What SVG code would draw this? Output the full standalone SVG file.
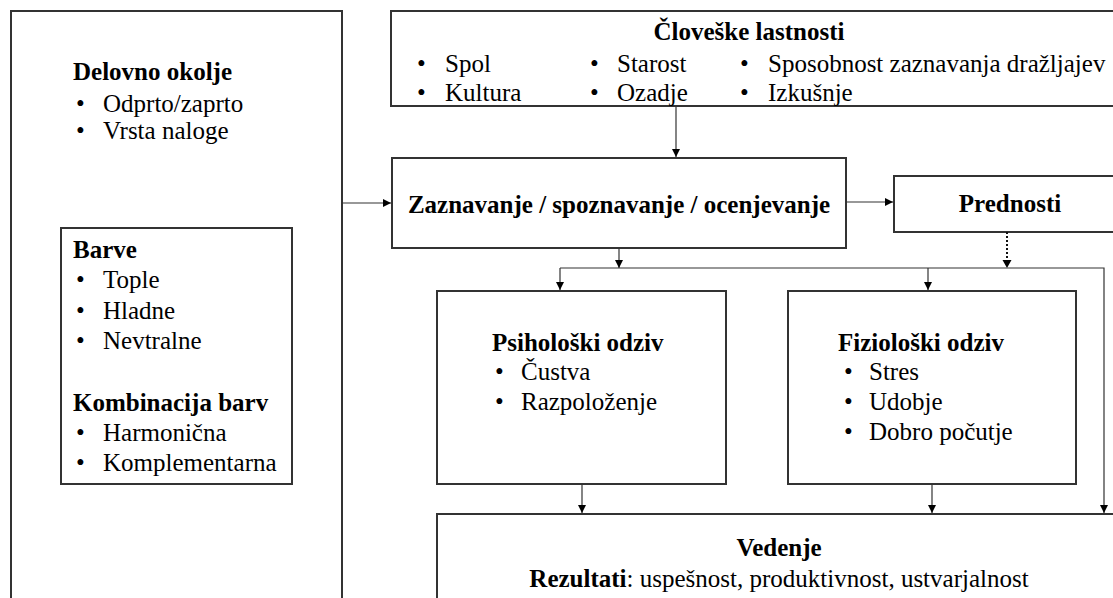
<svg xmlns="http://www.w3.org/2000/svg" width="1113" height="598" viewBox="0 0 1113 598">
<style>
.box{fill:#fff;stroke:#333;stroke-width:2}
.t{font-family:'Liberation Serif','Times New Roman',serif;font-size:25px;fill:#000}
.b{font-weight:bold}
.m{text-anchor:middle}
.c{fill:none;stroke:#333;stroke-width:1.2}
.d{fill:none;stroke:#111;stroke-width:2;stroke-dasharray:2 2}
</style>
<defs>
<marker id="ah" viewBox="0 0 10 10" refX="10" refY="5" markerWidth="9" markerHeight="8" markerUnits="userSpaceOnUse" orient="auto">
<path d="M0,0 L10,5 L0,10 z" fill="#000"/>
</marker>
</defs>
<rect width="1113" height="598" fill="#fff"/>

<g id="delovno-okolje">
<rect class="box" x="11" y="11" width="331" height="600"/>
<text class="t b" x="73" y="80">Delovno okolje</text>
<text class="t" x="76" y="112">•</text><text class="t" x="103" y="112">Odprto/zaprto</text>
<text class="t" x="76" y="139">•</text><text class="t" x="103" y="139">Vrsta naloge</text>
</g>

<g id="barve">
<rect class="box" x="61" y="228" width="231" height="256"/>
<text class="t b" x="73" y="258">Barve</text>
<text class="t" x="76" y="288">•</text><text class="t" x="103" y="288">Tople</text>
<text class="t" x="76" y="319">•</text><text class="t" x="103" y="319">Hladne</text>
<text class="t" x="76" y="349">•</text><text class="t" x="103" y="349">Nevtralne</text>
<text class="t b" x="73" y="411">Kombinacija barv</text>
<text class="t" x="76" y="441">•</text><text class="t" x="103" y="441">Harmonična</text>
<text class="t" x="76" y="471">•</text><text class="t" x="103" y="471">Komplementarna</text>
</g>

<g id="cloveske-lastnosti">
<rect class="box" x="391" y="11" width="740" height="95"/>
<text class="t b m" x="749" y="40">Človeške lastnosti</text>
<text class="t" x="417" y="72">•</text><text class="t" x="445" y="72">Spol</text>
<text class="t" x="590" y="72">•</text><text class="t" x="617" y="72">Starost</text>
<text class="t" x="740" y="72">•</text><text class="t" x="768" y="72">Sposobnost zaznavanja dražljajev</text>
<text class="t" x="417" y="101">•</text><text class="t" x="445" y="101">Kultura</text>
<text class="t" x="590" y="101">•</text><text class="t" x="617" y="101">Ozadje</text>
<text class="t" x="740" y="101">•</text><text class="t" x="768" y="101">Izkušnje</text>
</g>

<g id="zaznavanje">
<rect class="box" x="392" y="158" width="454" height="90"/>
<text class="t b m" x="619" y="213">Zaznavanje / spoznavanje / ocenjevanje</text>
</g>

<g id="prednosti">
<rect class="box" x="894" y="176" width="240" height="56"/>
<text class="t b m" x="1010" y="212">Prednosti</text>
</g>

<g id="psiholoski-odziv">
<rect class="box" x="437" y="291" width="289" height="193"/>
<text class="t b" x="492" y="351">Psihološki odziv</text>
<text class="t" x="495" y="380">•</text><text class="t" x="521" y="380">Čustva</text>
<text class="t" x="495" y="410">•</text><text class="t" x="521" y="410">Razpoloženje</text>
</g>

<g id="fizioloski-odziv">
<rect class="box" x="788" y="291" width="288" height="193"/>
<text class="t b" x="838" y="351">Fiziološki odziv</text>
<text class="t" x="844" y="380">•</text><text class="t" x="869" y="380">Stres</text>
<text class="t" x="844" y="410">•</text><text class="t" x="869" y="410">Udobje</text>
<text class="t" x="844" y="440">•</text><text class="t" x="869" y="440">Dobro počutje</text>
</g>

<g id="vedenje">
<rect class="box" x="437" y="514" width="700" height="100"/>
<text class="t b m" x="779" y="556">Vedenje</text>
<text class="t m" x="779" y="587"><tspan class="b">Rezultati</tspan>: uspešnost, produktivnost, ustvarjalnost</text>
</g>

<g id="connectors">
<line class="c" x1="342" y1="203" x2="391" y2="203" marker-end="url(#ah)"/>
<line class="c" x1="676" y1="106" x2="676" y2="157" marker-end="url(#ah)"/>
<line class="c" x1="846" y1="202" x2="893" y2="202" marker-end="url(#ah)"/>
<line class="c" x1="619" y1="248" x2="619" y2="268" marker-end="url(#ah)"/>
<line class="d" x1="1007" y1="232" x2="1007" y2="261"/>
<path d="M1002.5,260 L1011.5,260 L1007,268 z" fill="#000"/>
<polyline class="c" points="560,268 1104,268 1104,513" marker-end="url(#ah)"/>
<line class="c" x1="560" y1="268" x2="560" y2="290" marker-end="url(#ah)"/>
<line class="c" x1="928" y1="268" x2="928" y2="290" marker-end="url(#ah)"/>
<line class="c" x1="582" y1="484" x2="582" y2="513" marker-end="url(#ah)"/>
<line class="c" x1="932" y1="484" x2="932" y2="513" marker-end="url(#ah)"/>
</g>
</svg>
